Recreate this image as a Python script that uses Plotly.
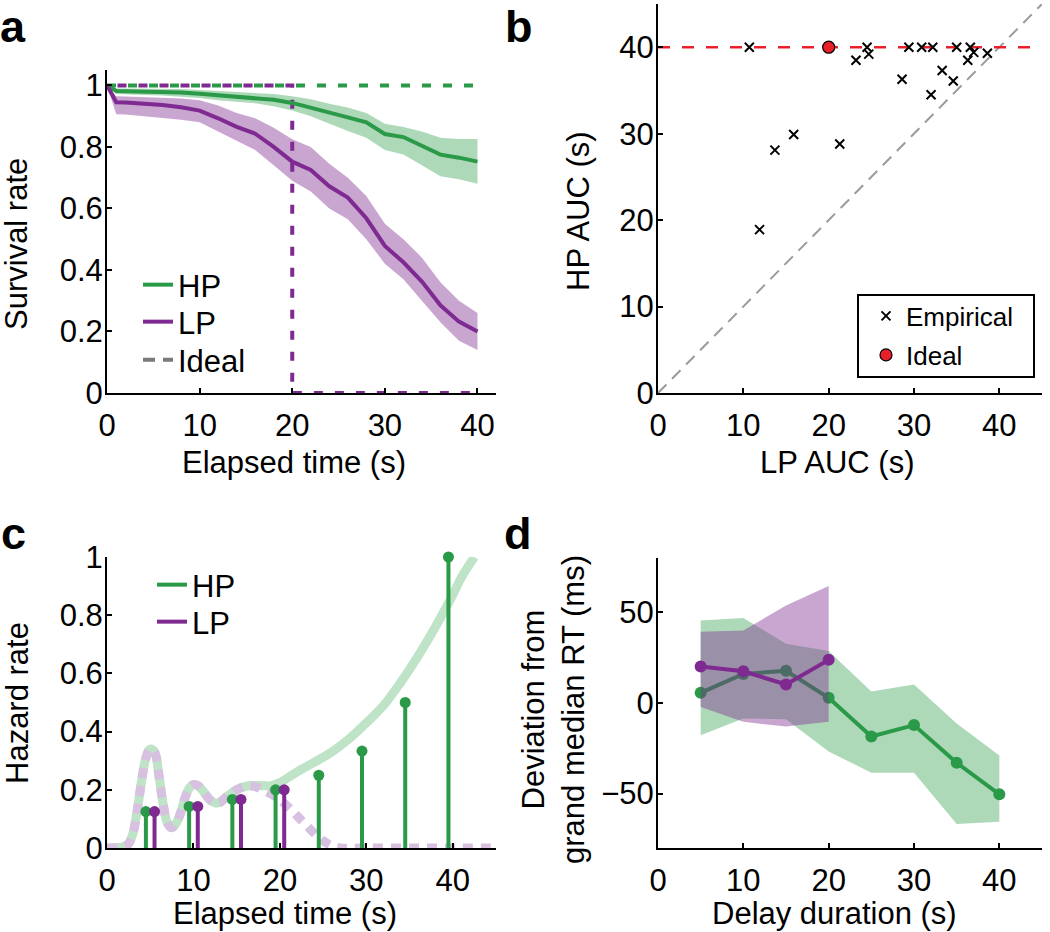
import plotly.graph_objects as go

# ---------------- data ----------------
# Panel a: survival curves
surv_t = [0, 1, 2, 4, 6, 8, 10, 12, 14, 16, 18, 20, 22, 24, 26, 28, 30, 32, 34, 36, 38, 40]
hp_surv = [1.0, 0.982, 0.981, 0.980, 0.979, 0.977, 0.973, 0.968, 0.963, 0.960, 0.953, 0.943,
           0.928, 0.914, 0.896, 0.880, 0.842, 0.832, 0.805, 0.775, 0.765, 0.752]
hp_surv_hi = [1.0, 0.990, 0.990, 0.990, 0.990, 0.988, 0.985, 0.982, 0.978, 0.977, 0.972, 0.965,
              0.955, 0.940, 0.928, 0.910, 0.875, 0.865, 0.850, 0.830, 0.826, 0.826]
hp_surv_lo = [1.0, 0.972, 0.971, 0.969, 0.967, 0.964, 0.959, 0.952, 0.946, 0.942, 0.932, 0.918,
              0.900, 0.875, 0.852, 0.830, 0.790, 0.775, 0.740, 0.705, 0.695, 0.680]
lp_surv = [1.0, 0.945, 0.944, 0.941, 0.936, 0.929, 0.918, 0.893, 0.865, 0.843, 0.800, 0.752,
           0.725, 0.672, 0.635, 0.568, 0.478, 0.425, 0.362, 0.285, 0.232, 0.200]
lp_surv_hi = [1.0, 0.965, 0.964, 0.962, 0.960, 0.957, 0.952, 0.935, 0.910, 0.893, 0.862, 0.825,
              0.800, 0.745, 0.700, 0.640, 0.550, 0.500, 0.440, 0.360, 0.300, 0.260]
lp_surv_lo = [1.0, 0.906, 0.905, 0.900, 0.895, 0.888, 0.880, 0.850, 0.820, 0.790, 0.740, 0.690,
              0.655, 0.600, 0.565, 0.500, 0.420, 0.370, 0.300, 0.230, 0.170, 0.140]
ideal_hp_t = [0, 40]
ideal_hp_v = [1, 1]
ideal_lp_t = [0, 20, 20, 40]
ideal_lp_v = [1, 1, 0, 0]

# Panel b: AUC scatter
lp_auc = [10.7, 11.9, 13.7, 15.9, 21.3, 23.2, 24.5, 24.7, 28.6, 29.4, 30.9, 32.2, 32.0,
          33.3, 34.6, 35.0, 36.6, 36.3, 37.0, 38.6]
hp_auc = [40.0, 18.9, 28.1, 29.9, 28.8, 38.5, 40.0, 39.2, 36.3, 40.0, 40.0, 40.0, 34.5,
          37.3, 36.1, 40.0, 40.0, 38.5, 39.4, 39.3]
ideal_lp_auc = [20]
ideal_hp_auc = [40]
ref_hp_auc = 40
unity_line = [0, 45]

# Panel c: hazard rates
hp_delays = [5, 10, 15, 20, 25, 30, 35, 40]
hp_hazard = [0.125, 0.143, 0.167, 0.2, 0.25, 0.333, 0.5, 1.0]
lp_delays = [5, 10, 15, 20]
lp_hazard = [0.125, 0.143, 0.167, 0.2]
hp_smooth_t = [0, 2, 2.5, 3, 3.5, 4, 4.5, 5, 5.5, 6, 6.5, 7, 7.5, 8, 8.5, 9, 9.5, 10, 10.5,
               11, 11.5, 12, 12.5, 13, 14, 15, 16, 17, 18, 19, 20, 22, 24, 26, 28, 30, 32,
               34, 36, 38, 40, 41, 42.5]
hp_smooth_v = [0, 0.005, 0.015, 0.05, 0.13, 0.23, 0.31, 0.34, 0.33, 0.25, 0.15, 0.085, 0.07,
               0.085, 0.12, 0.17, 0.205, 0.218, 0.215, 0.2, 0.18, 0.163, 0.155, 0.156, 0.18,
               0.2, 0.212, 0.215, 0.214, 0.214, 0.225, 0.262, 0.295, 0.33, 0.375, 0.43, 0.49,
               0.57, 0.66, 0.76, 0.87, 0.93, 1.0]
lp_smooth_t = [0, 2, 2.5, 3, 3.5, 4, 4.5, 5, 5.5, 6, 6.5, 7, 7.5, 8, 8.5, 9, 9.5, 10, 10.5,
               11, 11.5, 12, 12.5, 13, 14, 15, 16, 17, 18, 19, 20, 21, 22, 23, 24, 25, 26,
               27, 30, 35, 40, 45]
lp_smooth_v = [0, 0.005, 0.015, 0.05, 0.13, 0.23, 0.31, 0.34, 0.33, 0.25, 0.15, 0.085, 0.07,
               0.085, 0.12, 0.17, 0.205, 0.218, 0.215, 0.2, 0.18, 0.163, 0.155, 0.156, 0.18,
               0.2, 0.212, 0.212, 0.2, 0.185, 0.165, 0.14, 0.11, 0.08, 0.05, 0.025, 0.008,
               0, 0, 0, 0, 0]

# Panel d: RT deviation
rt_hp_delays = [5, 10, 15, 20, 25, 30, 35, 40]
rt_hp_dev = [5.6, 16, 17.8, 2.9, -18.5, -12.2, -33, -50.4]
rt_hp_hi = [45.5, 46.9, 32.7, 28.7, 6.4, 10.2, -11.3, -29]
rt_hp_lo = [-17.8, -8.5, -9, -26.7, -38.5, -38.5, -66.7, -65.5]
rt_lp_delays = [5, 10, 15, 20]
rt_lp_dev = [20.2, 17.5, 10.2, 23.8]
rt_lp_hi = [39.3, 40, 53.8, 64.5]
rt_lp_lo = [-2.2, -10.4, -13, -10.4]

# ---------------- style ----------------
W, H = 1050, 932
FONT = "Liberation Sans, Arial, Helvetica, sans-serif"
FS = 31
GREEN = "#2A9A48"
PURPLE = "#7E2A90"
GREEN_BAND = "rgba(42,154,72,0.38)"
PURPLE_BAND = "rgba(126,42,144,0.42)"
LIGHT_GREEN = "#BFE3C6"
LIGHT_PURPLE = "#D7C0E0"
RED = "#E8202A"


def px(x):
    return x / W


def py(y):
    return 1 - y / H


def band(x, hi, lo):
    return list(x) + list(x)[::-1], list(hi) + list(lo)[::-1]


fig = go.Figure()

# ---- panel a ----
bx, by = band(surv_t, hp_surv_hi, hp_surv_lo)
fig.add_trace(go.Scatter(x=bx, y=by, mode="lines", fill="toself", fillcolor=GREEN_BAND,
                         line=dict(width=0), hoverinfo="skip", showlegend=False,
                         xaxis="x", yaxis="y"))
bx, by = band(surv_t, lp_surv_hi, lp_surv_lo)
fig.add_trace(go.Scatter(x=bx, y=by, mode="lines", fill="toself", fillcolor=PURPLE_BAND,
                         line=dict(width=0), hoverinfo="skip", showlegend=False,
                         xaxis="x", yaxis="y"))
fig.add_trace(go.Scatter(x=ideal_hp_t, y=ideal_hp_v, mode="lines",
                         line=dict(color=GREEN, width=4, dash="9px,12px"),
                         showlegend=False, xaxis="x", yaxis="y"))
fig.add_trace(go.Scatter(x=ideal_lp_t, y=ideal_lp_v, mode="lines",
                         line=dict(color=PURPLE, width=4, dash="0px,10.5px,9px,1.5px"),
                         showlegend=False, xaxis="x", yaxis="y"))
fig.add_trace(go.Scatter(x=surv_t, y=hp_surv, mode="lines", name="HP",
                         line=dict(color=GREEN, width=4), legend="legend",
                         xaxis="x", yaxis="y"))
fig.add_trace(go.Scatter(x=surv_t, y=lp_surv, mode="lines", name="LP",
                         line=dict(color=PURPLE, width=4), legend="legend2",
                         xaxis="x", yaxis="y"))
fig.add_trace(go.Scatter(x=[None], y=[None], mode="lines", name="Ideal",
                         line=dict(color="#7A7A7A", width=4, dash="12px,8px"),
                         legend="legend3", xaxis="x", yaxis="y"))

# ---- panel b ----
fig.add_trace(go.Scatter(x=unity_line, y=unity_line, mode="lines",
                         line=dict(color="#9A9A9A", width=2, dash="12px,8px"),
                         showlegend=False, xaxis="x2", yaxis="y2"))
fig.add_trace(go.Scatter(x=unity_line, y=[ref_hp_auc, ref_hp_auc], mode="lines",
                         line=dict(color=RED, width=2.5, dash="12px,12px"),
                         showlegend=False, xaxis="x2", yaxis="y2"))
fig.add_trace(go.Scatter(x=lp_auc, y=hp_auc, mode="markers", name="Empirical",
                         marker=dict(symbol="x-thin", size=9, color="black",
                                     line=dict(color="black", width=2)),
                         legend="legend4", xaxis="x2", yaxis="y2"))
fig.add_trace(go.Scatter(x=ideal_lp_auc, y=ideal_hp_auc, mode="markers", name="Ideal",
                         marker=dict(symbol="circle", size=12, color=RED,
                                     line=dict(color="black", width=1.2)),
                         legend="legend5", xaxis="x2", yaxis="y2"))

# ---- panel c ----
fig.add_trace(go.Scatter(x=hp_smooth_t, y=hp_smooth_v, mode="lines",
                         line=dict(color=LIGHT_GREEN, width=9, shape="spline"),
                         showlegend=False, xaxis="x3", yaxis="y3"))
fig.add_trace(go.Scatter(x=lp_smooth_t, y=lp_smooth_v, mode="lines",
                         line=dict(color=LIGHT_PURPLE, width=9, shape="spline", dash="10px,8px"),
                         showlegend=False, xaxis="x3", yaxis="y3"))


def stems(delays, vals, offset):
    xs, ys = [], []
    for d, v in zip(delays, vals):
        xs += [d + offset, d + offset, None]
        ys += [0, v, None]
    return xs, ys


sx, sy = stems(hp_delays, hp_hazard, -0.5)
fig.add_trace(go.Scatter(x=sx, y=sy, mode="lines", line=dict(color=GREEN, width=4),
                         showlegend=False, xaxis="x3", yaxis="y3"))
fig.add_trace(go.Scatter(x=[d - 0.5 for d in hp_delays], y=hp_hazard, mode="markers",
                         marker=dict(color=GREEN, size=11), cliponaxis=False,
                         showlegend=False, xaxis="x3", yaxis="y3"))
sx, sy = stems(lp_delays, lp_hazard, 0.5)
fig.add_trace(go.Scatter(x=sx, y=sy, mode="lines", line=dict(color=PURPLE, width=4),
                         showlegend=False, xaxis="x3", yaxis="y3"))
fig.add_trace(go.Scatter(x=[d + 0.5 for d in lp_delays], y=lp_hazard, mode="markers",
                         marker=dict(color=PURPLE, size=11), cliponaxis=False,
                         showlegend=False, xaxis="x3", yaxis="y3"))
fig.add_trace(go.Scatter(x=[None], y=[None], mode="lines", name="HP",
                         line=dict(color=GREEN, width=4), legend="legend6",
                         xaxis="x3", yaxis="y3"))
fig.add_trace(go.Scatter(x=[None], y=[None], mode="lines", name="LP",
                         line=dict(color=PURPLE, width=4), legend="legend7",
                         xaxis="x3", yaxis="y3"))

# ---- panel d ----
bx, by = band(rt_hp_delays, rt_hp_hi, rt_hp_lo)
fig.add_trace(go.Scatter(x=bx, y=by, mode="lines", fill="toself", fillcolor=GREEN_BAND,
                         line=dict(width=0), hoverinfo="skip", showlegend=False,
                         xaxis="x4", yaxis="y4"))
fig.add_trace(go.Scatter(x=rt_hp_delays, y=rt_hp_dev, mode="lines+markers",
                         line=dict(color=GREEN, width=4), marker=dict(color=GREEN, size=12),
                         showlegend=False, xaxis="x4", yaxis="y4"))
bx, by = band(rt_lp_delays, rt_lp_hi, rt_lp_lo)
fig.add_trace(go.Scatter(x=bx, y=by, mode="lines", fill="toself", fillcolor=PURPLE_BAND,
                         line=dict(width=0), hoverinfo="skip", showlegend=False,
                         xaxis="x4", yaxis="y4"))
fig.add_trace(go.Scatter(x=rt_lp_delays, y=rt_lp_dev, mode="lines+markers",
                         line=dict(color=PURPLE, width=4), marker=dict(color=PURPLE, size=12),
                         showlegend=False, xaxis="x4", yaxis="y4"))

# ---------------- layout ----------------
tickfont = dict(family=FONT, size=FS, color="black")
axis_common = dict(showline=True, linecolor="black", linewidth=2, ticks="inside",
                   ticklen=5, tickwidth=2, tickcolor="black", showgrid=False,
                   zeroline=False, tickfont=tickfont, mirror=False, fixedrange=True,
                   automargin=False)
xt = [0, 10, 20, 30, 40]
frac_ticks = [0, 0.2, 0.4, 0.6, 0.8, 1]
frac_text = ["0", "0.2", "0.4", "0.6", "0.8", "1"]


def legend_at(text_left, center_y, size=FS):
    return dict(x=px(text_left - 41), y=py(center_y), xanchor="left", yanchor="middle",
                bgcolor="rgba(0,0,0,0)", borderwidth=0,
                font=dict(family=FONT, size=size, color="black"),
                tracegroupgap=0, itemwidth=30)


fig.update_layout(
    width=W, height=H,
    margin=dict(l=0, r=0, t=0, b=0, autoexpand=False),
    paper_bgcolor="white", plot_bgcolor="white",
    font=dict(family=FONT, size=FS, color="black"),
    xaxis=dict(axis_common, domain=[px(107), px(496)], range=[0, 42], anchor="y",
               tickvals=xt, ticklabelstandoff=4),
    yaxis=dict(axis_common, domain=[py(393), py(70)], range=[0, 1.05], anchor="x",
               tickvals=frac_ticks, ticktext=frac_text, ticklabelstandoff=-4),
    xaxis2=dict(axis_common, domain=[px(658), px(1042)], range=[0, 45], anchor="y2",
                tickvals=xt, ticklabelstandoff=4),
    yaxis2=dict(axis_common, domain=[py(393), py(4)], range=[0, 45], anchor="x2",
                tickvals=[0, 10, 20, 30, 40], ticklabelstandoff=-4),
    xaxis3=dict(axis_common, domain=[px(107), px(496)], range=[0, 45], anchor="y3",
                tickvals=xt, ticklabelstandoff=4),
    yaxis3=dict(axis_common, domain=[py(848), py(557)], range=[0, 1], anchor="x3",
                tickvals=frac_ticks, ticktext=frac_text, ticklabelstandoff=-4),
    xaxis4=dict(axis_common, domain=[px(658), px(1042)], range=[0, 45], anchor="y4",
                tickvals=xt, ticklabelstandoff=4),
    yaxis4=dict(axis_common, domain=[py(848), py(558)], range=[-80, 80], anchor="x4",
                tickvals=[-50, 0, 50], ticklabelstandoff=-4),
    legend=legend_at(179, 285),
    legend2=legend_at(179, 322),
    legend3=legend_at(179, 360),
    legend4=legend_at(907, 316, size=26),
    legend5=legend_at(907, 355, size=26),
    legend6=legend_at(193, 585),
    legend7=legend_at(193, 622),
    shapes=[dict(type="rect", xref="paper", yref="paper", x0=px(858), x1=px(1034),
                 y0=py(377), y1=py(295), line=dict(color="black", width=2),
                 fillcolor="white", layer="above")],
)

# axis titles and panel letters
ann = []


def add_text(text, x, y, angle=0, size=FS, bold=False):
    ann.append(dict(text=f"<b>{text}</b>" if bold else text, x=px(x), y=py(y),
                    xref="paper", yref="paper", showarrow=False, textangle=angle,
                    xanchor="center", yanchor="middle",
                    font=dict(family=FONT, size=size, color="black")))


add_text("Elapsed time (s)", 294, 462)
add_text("Survival rate", 17, 244, angle=-90)
add_text("LP AUC (s)", 837, 462)
add_text("HP AUC (s)", 579, 211, angle=-90)
add_text("Elapsed time (s)", 285, 913)
add_text("Hazard rate", 17, 703, angle=-90)
add_text("Delay duration (s)", 834, 913)
add_text("Deviation from<br>grand median RT (ms)", 553, 710, angle=-90)
add_text("a", 13, 27, size=45, bold=True)
add_text("b", 519, 27, size=45, bold=True)
add_text("c", 13, 533, size=45, bold=True)
add_text("d", 518, 533, size=45, bold=True)
fig.update_layout(annotations=ann)

fig.write_html("out.html",
               config={"displayModeBar": False},
               post_script="document.body.style.margin='0';"
                           "document.body.style.overflow='hidden';")
